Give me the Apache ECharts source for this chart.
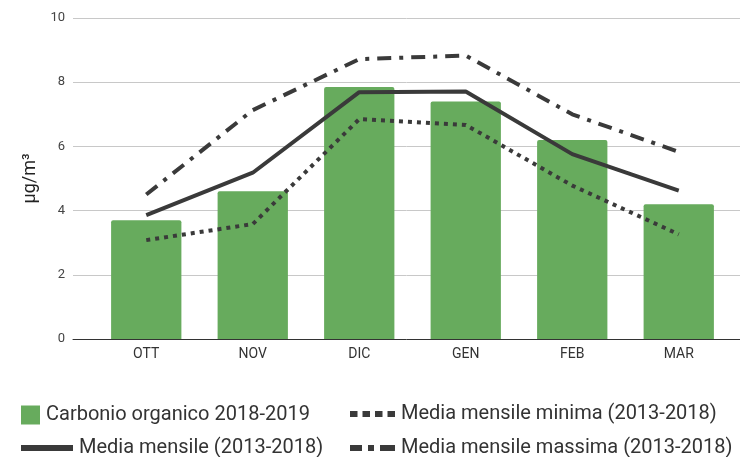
<!DOCTYPE html>
<html>
<head>
    <meta charset="utf-8"/>
    <title>Carbonio organico</title>
    <script src="https://cdn.jsdelivr.net/npm/echarts@6/dist/echarts.min.js"></script>
    <style>
        html, body { margin: 0; padding: 0; background: #fff; }
    </style>
</head>
<body>
<div id="main" style="width: 740px;height:457px;"></div>
<script type="text/javascript">
    // dati
    var mesi = ['OTT', 'NOV', 'DIC', 'GEN', 'FEB', 'MAR'];
    var carbonio = [3.7, 4.6, 7.85, 7.4, 6.2, 4.2];
    var mediaMensile = [3.86, 5.18, 7.69, 7.71, 5.76, 4.62];
    var mediaMinima = [3.08, 3.58, 6.85, 6.67, 4.78, 3.26];
    var mediaMassima = [4.5, 7.13, 8.72, 8.83, 7.0, 5.83];
    var yTicks = [0, 2, 4, 6, 8, 10];

    var nomi = ['Carbonio organico 2018-2019', 'Media mensile (2013-2018)',
        'Media mensile minima (2013-2018)', 'Media mensile massima (2013-2018)'];

    var scuro = '#3a3a3a';
    var verde = '#67ab5d';
    var font = 'Roboto, "Noto Sans", sans-serif';
    var legText = {color: '#333', fontSize: 20, fontFamily: font, padding: [0, 0, 0, 1]};

    // icone della legenda (puntini e tratto-punto)
    var iconaPunti = 'path://M0,0h7.5v6h-7.5z M12.5,0h7.5v6h-7.5z M25,0h7.5v6h-7.5z M37.5,0h7.5v6h-7.5z';
    var iconaTratto = 'path://M0,0h12v6h-12z M18,0h6v6h-6z M30,0h15v6h-15z';

    var myChart = echarts.init(document.getElementById('main'));
    var option = {
        animation: false,
        textStyle: {fontFamily: font},
        grid: [
            // griglia di sfondo (linee più larghe)
            {left: 73, right: 0, top: 18, height: 321},
            // area dei dati
            {left: 93, right: 8, top: 18, height: 321}
        ],
        xAxis: [{
            gridIndex: 0, type: 'value', min: 0, max: 1,
            axisLine: {show: true, lineStyle: {color: '#333', width: 1}},
            axisTick: {show: false}, axisLabel: {show: false}, splitLine: {show: false}
        }, {
            gridIndex: 1, type: 'category', data: mesi,
            axisLine: {show: false}, axisTick: {show: false},
            axisLabel: {color: '#333', fontSize: 14, margin: 8, fontFamily: font}
        }],
        yAxis: [{
            gridIndex: 0, type: 'value', min: yTicks[0], max: yTicks[yTicks.length - 1], interval: 2,
            name: 'µg/m³', nameLocation: 'middle', nameGap: 34, nameRotate: 90,
            nameTextStyle: {color: '#222', fontSize: 18, fontFamily: font},
            axisLine: {show: false}, axisTick: {show: false},
            axisLabel: {color: '#444', fontSize: 13, margin: 8},
            splitLine: {lineStyle: {color: '#c8c8c8', width: 1}}
        }, {
            gridIndex: 1, type: 'value', min: 0, max: 10, interval: 2, show: false
        }],
        legend: [{
            data: [nomi[0]], left: 16, top: 400, icon: 'rect',
            itemWidth: 19, itemHeight: 19, textStyle: legText
        }, {
            data: [nomi[1]], left: 16, top: 433, icon: 'rect',
            itemWidth: 52, itemHeight: 6, textStyle: legText
        }, {
            data: [nomi[2]], left: 345, top: 399, icon: iconaPunti,
            itemWidth: 45, itemHeight: 6, textStyle: legText
        }, {
            data: [nomi[3]], left: 345, top: 433, icon: iconaTratto,
            itemWidth: 45, itemHeight: 6, textStyle: legText
        }],
        series: [{
            name: nomi[0], type: 'bar', data: carbonio,
            xAxisIndex: 1, yAxisIndex: 1,
            barCategoryGap: '34%',
            itemStyle: {color: verde, borderRadius: [2, 2, 0, 0]}
        }, {
            name: nomi[1], type: 'line', data: mediaMensile,
            xAxisIndex: 1, yAxisIndex: 1, symbol: 'none',
            lineStyle: {color: scuro, width: 4},
            itemStyle: {color: scuro}
        }, {
            name: nomi[2], type: 'line', data: mediaMinima,
            xAxisIndex: 1, yAxisIndex: 1, symbol: 'none',
            lineStyle: {color: scuro, width: 4, type: [4, 5], cap: 'butt'},
            itemStyle: {color: scuro}
        }, {
            name: nomi[3], type: 'line', data: mediaMassima,
            xAxisIndex: 1, yAxisIndex: 1, symbol: 'none',
            lineStyle: {color: scuro, width: 4, type: [14, 8, 4, 8], cap: 'butt'},
            itemStyle: {color: scuro}
        }]
    };
    myChart.setOption(option);
</script>
</body>
</html>
